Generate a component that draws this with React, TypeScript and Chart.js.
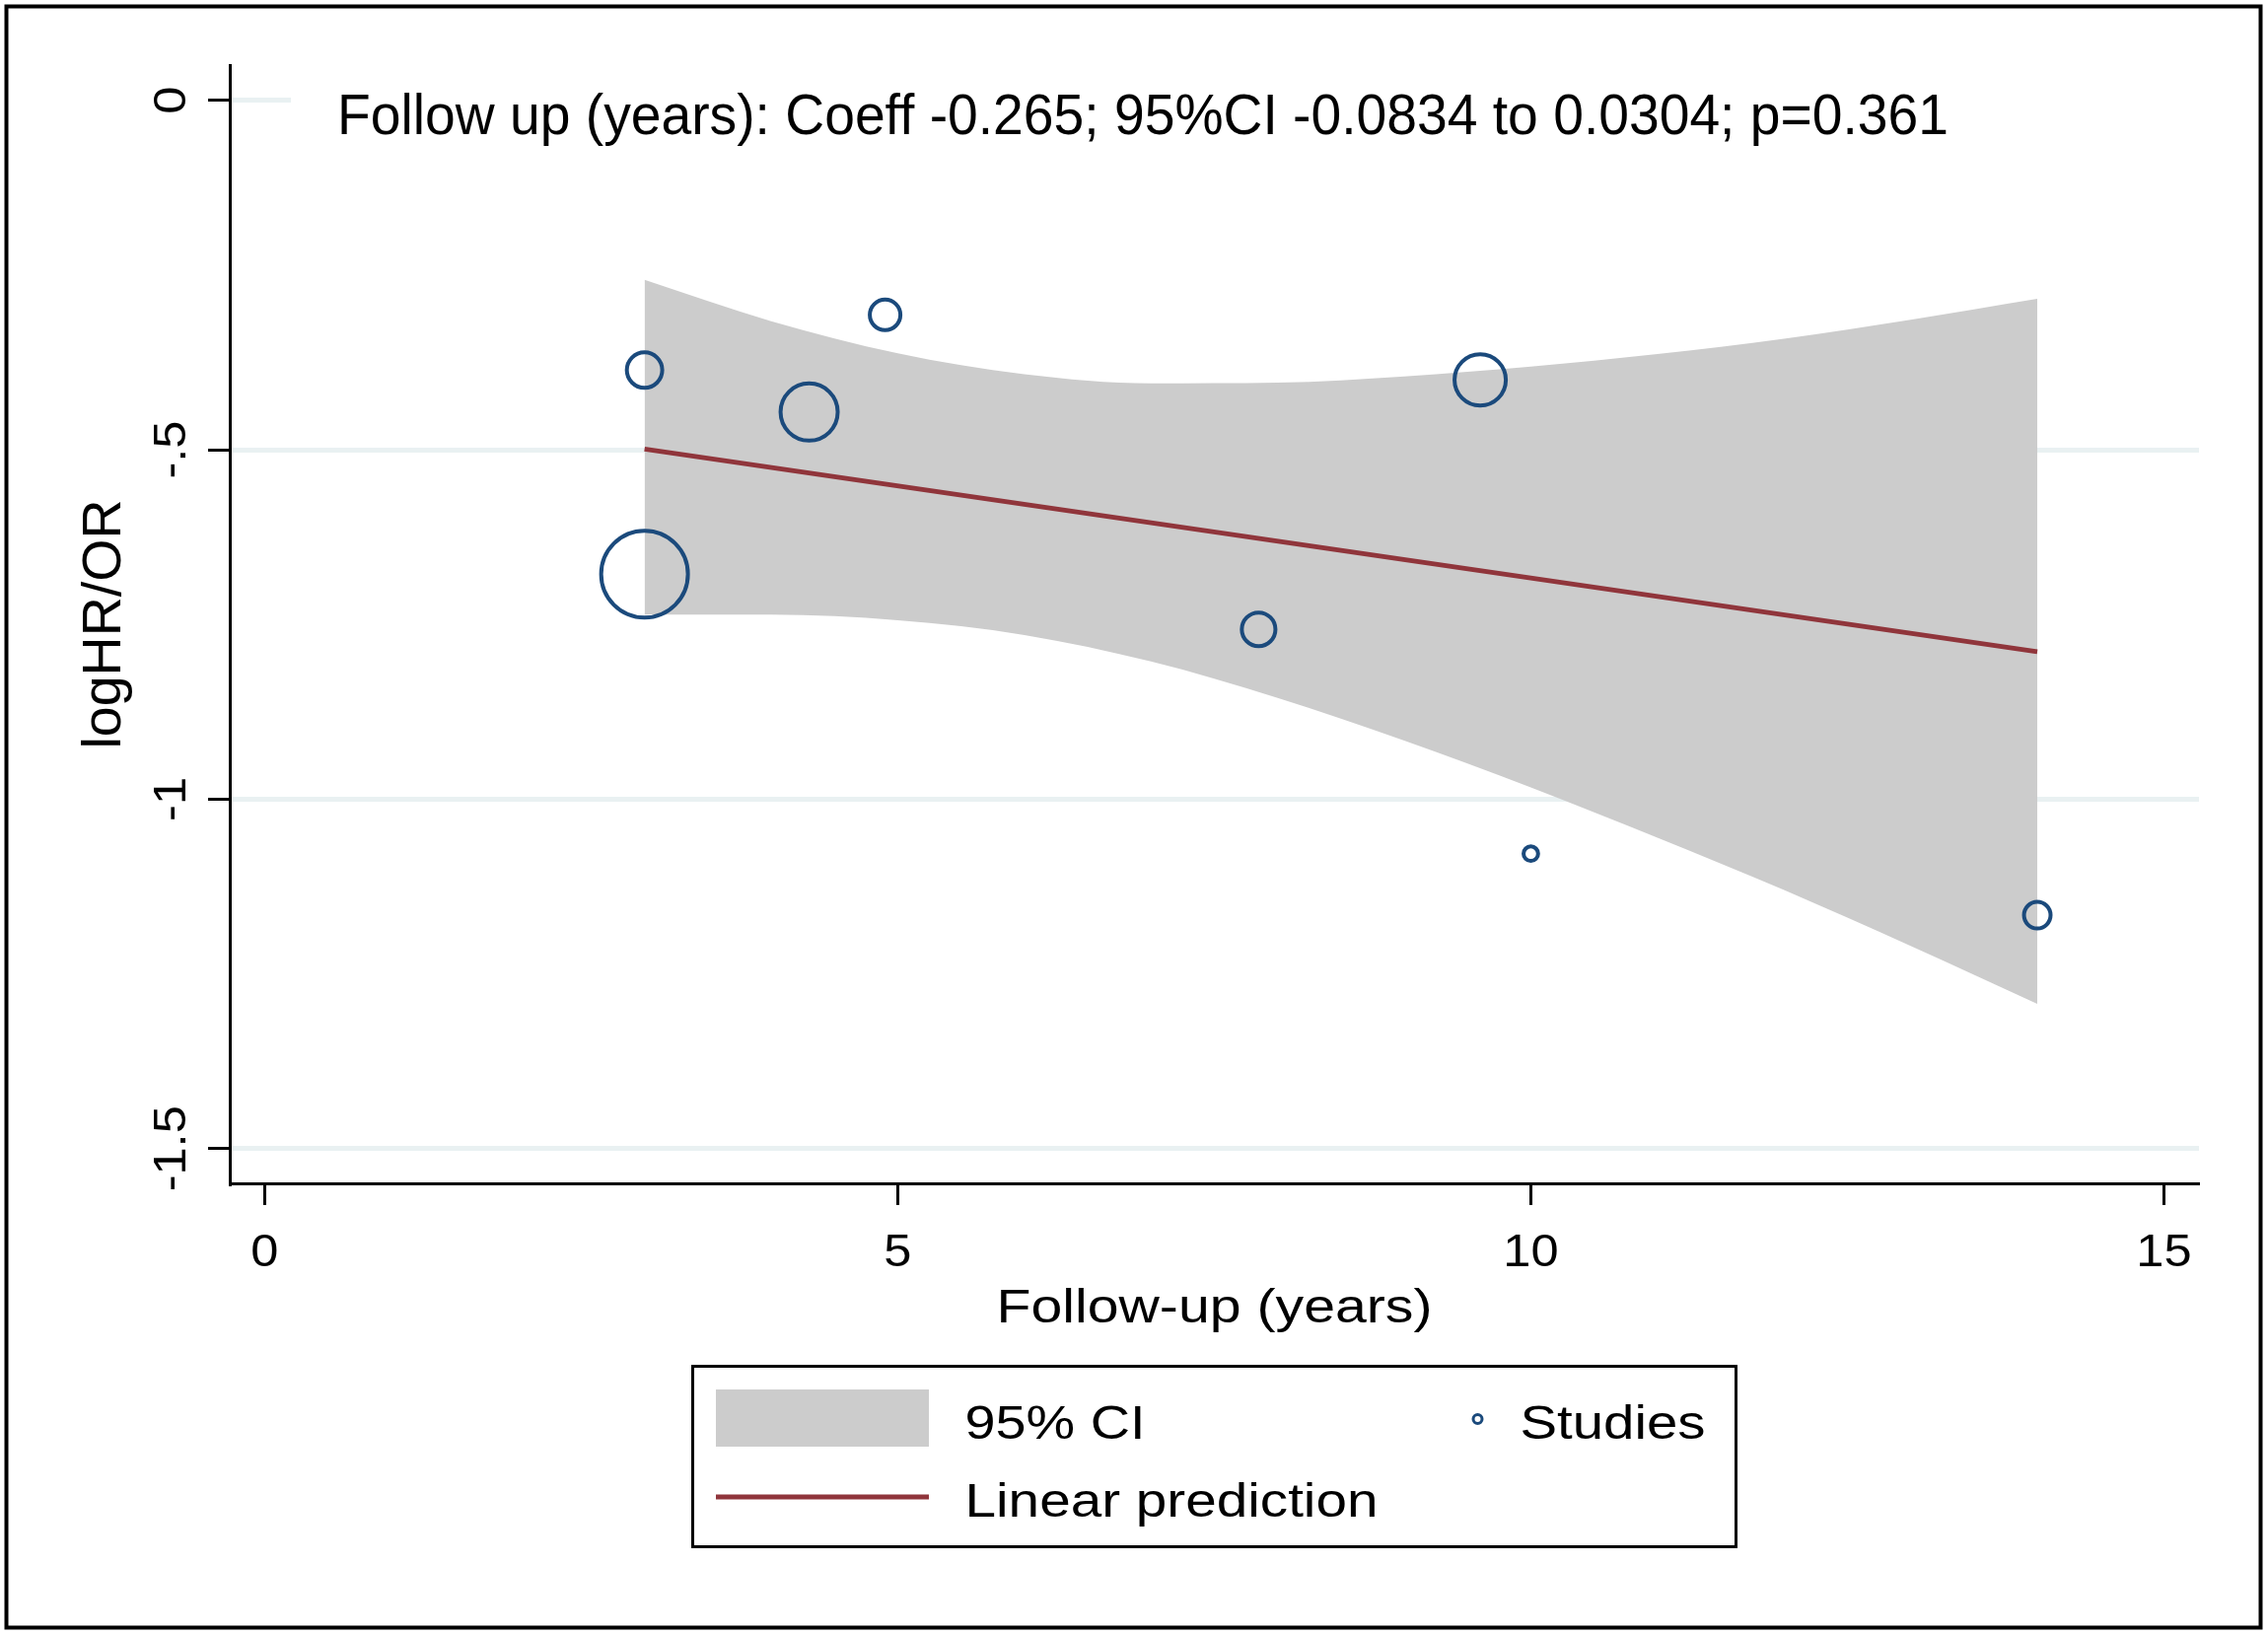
import { useEffect, useRef } from "react"
import { Chart, registerables } from "chart.js"

Chart.register(...registerables)

// studies (follow-up years, log HR/OR, relative weight %)
const studyYears = [3, 4.9, 4.3, 3, 9.6, 7.85, 10, 14]
const studyLogHR = [-0.386, -0.307, -0.446, -0.678, -0.4, -0.757, -1.078, -1.166]
const studyWeights = [7.1, 5.3, 18.5, 42.6, 14.9, 6.4, 1.2, 4.0]

// linear prediction
const fitYears = [3, 14]
const fitLogHR = [-0.499, -0.789]

// 95% CI band
const bandYears = [3, 4, 5, 6, 7, 8, 9, 10, 11, 12, 13, 14]
const ciUpper = [-0.257, -0.316, -0.362, -0.392, -0.405, -0.404, -0.395, -0.381, -0.363, -0.341, -0.314, -0.284]
const ciLower = [-0.736, -0.736, -0.744, -0.765, -0.803, -0.855, -0.916, -0.983, -1.055, -1.13, -1.21, -1.293]

const xTicks = [0, 5, 10, 15]
const xTickLabels = ["0", "5", "10", "15"]
const yTicks = [0, -0.5, -1, -1.5]
const yTickLabels = ["0", "-.5", "-1", "-1.5"]

const noteText = "Follow up (years): Coeff -0.265; 95%CI -0.0834 to 0.0304; p=0.361"
const xTitle = "Follow-up (years)"
const yTitle = "logHR/OR"

const FONT = '"Liberation Sans", Arial, sans-serif'
const BAND = "#cccccc"
const FIT = "#90353b"
const STUDY = "#1b4a7c"

type TextOpts = { width?: number; stretch?: number; align?: CanvasTextAlign; rotate?: boolean }

function drawText(ctx: CanvasRenderingContext2D, text: string, x: number, y: number, size: number, o: TextOpts = {}) {
  ctx.save()
  ctx.font = `${size}px ${FONT}`
  ctx.textAlign = o.align || "left"
  ctx.textBaseline = "alphabetic"
  ctx.fillStyle = "#000"
  const natural = ctx.measureText(text).width
  const sx = o.width ? o.width / natural : o.stretch || 1
  ctx.translate(x, y)
  if (o.rotate) ctx.rotate(-Math.PI / 2)
  ctx.scale(sx, 1)
  ctx.fillText(text, 0, 0)
  ctx.restore()
}

const stataPlugin = {
  id: "stataDecor",
  beforeDatasetsDraw(chart: any) {
    // white box behind the note hides the top grid line
    const { ctx, chartArea } = chart
    ctx.save()
    ctx.fillStyle = "#fff"
    ctx.fillRect(295, chartArea.top, chartArea.right - 295, 150 - chartArea.top)
    ctx.restore()
  },
  afterDraw(chart: any) {
    const { ctx, chartArea, scales } = chart
    const ds = chart.data.datasets

    drawText(ctx, noteText, 342, 136, 58, { width: 1634 })

    // tick labels
    scales.x.ticks.forEach((t: any, i: number) => {
      const px = scales.x.getPixelForValue(t.value)
      drawText(ctx, xTickLabels[i], px, chartArea.bottom + 84, 46, { align: "center", stretch: 1.1 })
    })
    scales.y.ticks.forEach((t: any, i: number) => {
      const py = scales.y.getPixelForValue(t.value)
      drawText(ctx, yTickLabels[i], chartArea.left - 45, py, 46, { align: "center", stretch: 1.1, rotate: true })
    })

    // axis titles
    const cx = (chartArea.left + chartArea.right) / 2
    const cy = (chartArea.top + chartArea.bottom) / 2
    drawText(ctx, xTitle, cx, chartArea.bottom + 141, 49, { align: "center", width: 442 })
    drawText(ctx, yTitle, 122, cy, 55, { align: "center", width: 253, rotate: true })

    // legend
    ctx.save()
    ctx.strokeStyle = "#000"
    ctx.lineWidth = 3
    ctx.strokeRect(702.5, 1385.5, 1058, 183)
    ctx.fillStyle = ds[2].backgroundColor
    ctx.fillRect(726, 1409, 216, 58)
    ctx.strokeStyle = ds[1].borderColor
    ctx.lineWidth = 5
    ctx.beginPath()
    ctx.moveTo(726, 1518)
    ctx.lineTo(942, 1518)
    ctx.stroke()
    ctx.strokeStyle = ds[0].pointBorderColor
    ctx.lineWidth = 3
    ctx.beginPath()
    ctx.arc(1498.5, 1439, 4.5, 0, Math.PI * 2)
    ctx.stroke()
    ctx.restore()
    drawText(ctx, ds[2].label, 978.5, 1459, 49, { width: 183 })
    drawText(ctx, ds[0].label, 1541.5, 1459, 49, { width: 188 })
    drawText(ctx, ds[1].label, 978.5, 1538, 49, { width: 419 })

    // outer frame
    ctx.save()
    ctx.strokeStyle = "#000"
    ctx.lineWidth = 4
    ctx.strokeRect(6.5, 6.5, 2286, 1644)
    ctx.restore()
  },
}

export default function App() {
  const canvasRef = useRef<HTMLCanvasElement>(null)

  useEffect(() => {
    if (!canvasRef.current) return

    const chart = new Chart(canvasRef.current, {
      type: "scatter",
      data: {
        datasets: [
          {
            type: "scatter",
            label: "Studies",
            data: studyYears.map((x, i) => ({ x, y: studyLogHR[i] })),
            pointRadius: studyWeights.map((w) => Math.sqrt(w) * 6.74),
            pointBorderColor: STUDY,
            pointBackgroundColor: "rgba(0,0,0,0)",
            pointBorderWidth: 4,
            order: 0,
          },
          {
            type: "line",
            label: "Linear prediction",
            data: fitYears.map((x, i) => ({ x, y: fitLogHR[i] })),
            borderColor: FIT,
            borderWidth: 5,
            pointRadius: 0,
            fill: false,
            order: 1,
          },
          {
            type: "line",
            label: "95% CI",
            data: bandYears.map((x, i) => ({ x, y: ciUpper[i] })),
            borderColor: "rgba(0,0,0,0)",
            borderWidth: 0,
            backgroundColor: BAND,
            pointRadius: 0,
            cubicInterpolationMode: "monotone",
            fill: "+1",
            order: 2,
          },
          {
            type: "line",
            label: "",
            data: bandYears.map((x, i) => ({ x, y: ciLower[i] })),
            borderColor: "rgba(0,0,0,0)",
            borderWidth: 0,
            pointRadius: 0,
            cubicInterpolationMode: "monotone",
            fill: false,
            order: 3,
          },
        ],
      },
      options: {
        responsive: false,
        animation: false,
        devicePixelRatio: 1,
        events: [],
        layout: { padding: { left: 0, top: 66, right: 70, bottom: 0 } },
        plugins: {
          legend: { display: false },
          tooltip: { enabled: false },
        },
        scales: {
          x: {
            type: "linear",
            min: -0.276,
            max: 15.277,
            afterBuildTicks: (s: any) => {
              s.ticks = xTicks.map((value) => ({ value }))
            },
            afterFit: (s: any) => {
              s.height = 458
            },
            ticks: { display: false },
            grid: {
              drawOnChartArea: false,
              drawTicks: true,
              tickLength: 22,
              tickWidth: 3,
              tickColor: "#000",
            },
            border: { display: true, color: "#000", width: 3 },
          },
          y: {
            type: "linear",
            min: -1.5497,
            max: 0.0504,
            afterBuildTicks: (s: any) => {
              s.ticks = yTicks.map((value) => ({ value }))
            },
            afterFit: (s: any) => {
              s.width = 233
            },
            ticks: { display: false },
            grid: {
              color: "#e9f1f2",
              lineWidth: 5,
              drawTicks: true,
              tickLength: 22,
              tickWidth: 3,
              tickColor: "#000",
            },
            border: { display: true, color: "#000", width: 3 },
          },
        },
      },
      plugins: [stataPlugin],
    } as any)

    return () => {
      chart.destroy()
    }
  }, [])

  return (
    <div style={{ position: "absolute", left: 0, top: 0, width: 2300, height: 1658, background: "#fff" }}>
      <canvas ref={canvasRef} width={2300} height={1658} style={{ display: "block" }} />
    </div>
  )
}
